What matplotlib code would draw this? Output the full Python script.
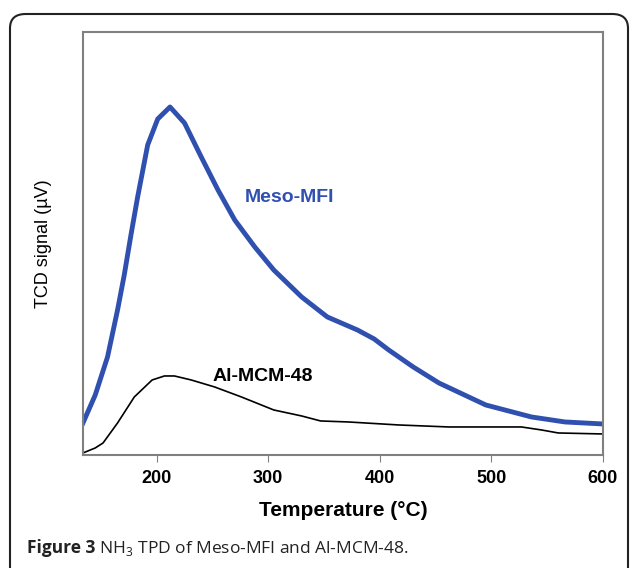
import numpy as np
import matplotlib
matplotlib.use("Agg")
import matplotlib.pyplot as plt
from matplotlib.patches import FancyBboxPatch

# temperature (C) / TCD signal (arbitrary units)
meso_T = [134, 145, 156, 165, 171, 177, 183, 192, 201, 212, 225, 240, 255,
          270, 288, 305, 330, 353, 380, 395, 408, 430, 453, 495, 536, 566, 600]
meso_S = [32, 60, 98, 145, 180, 220, 258, 310, 336, 348, 332, 298, 265,
          235, 208, 185, 158, 138, 125, 116, 105, 88, 72, 50, 38, 33, 31]

mcm_T = [134, 145, 152, 165, 180, 196, 207, 216, 231, 252, 276, 305, 330,
         347, 372, 417, 462, 527, 545, 560, 600]
mcm_S = [2, 7, 12, 32, 58, 75, 79, 79, 75, 68, 58, 45, 39,
         34, 33, 30, 28, 28, 25, 22, 21]

xticks = [200, 300, 400, 500, 600]

plt.rcParams['font.family'] = ['Liberation Sans', 'DejaVu Sans']
plt.rcParams['mathtext.fontset'] = 'custom'
plt.rcParams['mathtext.rm'] = 'Open Sans'

fig = plt.figure(figsize=(6.3, 5.68), dpi=100)
ax = fig.add_axes([0.1317, 0.199, 0.957 - 0.1317, 0.9437 - 0.199])

ax.plot(meso_T, meso_S, color='#3050b0', lw=3.5)
ax.plot(mcm_T, mcm_S, color='black', lw=1.2)

ax.set_xlim(134, 600)
ax.set_ylim(0, 423)
ax.set_xticks(xticks)
ax.set_xticklabels([str(t) for t in xticks], fontweight='bold', fontsize=13)
ax.set_yticks([])
ax.tick_params(axis='x', direction='out', length=5, color='#808080', pad=6)
for sp in ax.spines.values():
    sp.set_color('#808080')
    sp.set_linewidth(1.5)

ax.set_xlabel('Temperature (°C)', fontweight='bold', fontsize=15, labelpad=10)
ax.set_ylabel('TCD signal (µV)', fontsize=13, labelpad=22)

ax.text(279, 257, 'Meso-MFI', color='#3050b0', fontweight='bold', fontsize=14,
        va='center', ha='left')
ax.text(250, 78, 'Al-MCM-48', color='black', fontweight='bold', fontsize=14,
        va='center', ha='left')

# rounded frame round the figure panel
frame = FancyBboxPatch((10 / 630, -0.05), 618 / 630, (568 - 14) / 568 + 0.05,
                       boxstyle='round,pad=0,rounding_size=0.025',
                       transform=fig.transFigure, fill=False, ec='#222222',
                       lw=1.5, clip_on=False)
fig.patches.append(frame)

# caption: bold label then plain text
cap_y = 1 - 548 / 568
t1 = fig.text(27 / 630, cap_y, 'Figure 3', fontweight='bold', fontsize=12.5,
              family='Open Sans', va='center', color='#222222')
r = fig.canvas.get_renderer()
bb = t1.get_window_extent(renderer=r)
fig.text(bb.x1 / fig.bbox.width, cap_y, ' NH$_\\mathregular{3}$ TPD of Meso-MFI and Al-MCM-48.',
         fontsize=12.5, family='Open Sans', va='center', color='#222222')

fig.savefig('out.png', dpi=100)
